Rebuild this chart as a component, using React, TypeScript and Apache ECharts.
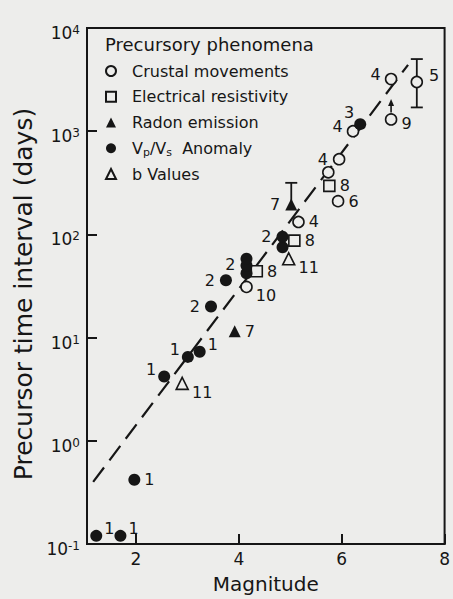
import React, { useEffect, useRef } from 'react';
import * as echarts from 'echarts';

// ---------- data ----------
const magnitudeTicks = [2, 4, 6, 8];

// Vp/Vs anomaly (filled circles)
const vpvsMag = [1.23, 1.7, 1.97, 2.55, 3.01, 3.24, 3.46, 3.75, 4.15, 4.15, 4.15, 4.85, 4.85, 6.36];
const vpvsDays = [0.12, 0.12, 0.42, 4.2, 6.5, 7.3, 20, 36, 42, 50, 58, 75, 95, 1170];
const vpvsRef = ['1', '1', '1', '1', '1', '1', '2', '2', '', '', '2', '', '2', '3'];

// Crustal movements (open circles)
const crustalMag = [4.15, 5.16, 5.74, 5.95, 5.93, 6.22, 6.96, 6.96, 7.46];
const crustalDays = [31, 132, 400, 535, 210, 1000, 3200, 1300, 3000];
const crustalRef = ['10', '4', '', '4', '6', '4', '4', '9', '5'];

// Electrical resistivity (open squares)
const resistMag = [4.35, 5.08, 5.76];
const resistDays = [44, 87, 295];
const resistRef = ['8', '8', '8'];

// Radon emission (filled triangles)
const radonMag = [3.92, 5.02];
const radonDays = [11.5, 195];
const radonRef = ['7', '7'];

// b values (open triangles)
const bValueMag = [2.9, 4.97];
const bValueDays = [3.6, 58];
const bValueRef = ['11', '11'];

// dashed trend line
const fitMag = [1.17, 7.29];
const fitDays = [0.4, 4400];

// error bars
const errMag = [7.46, 5.02];
const errLow = [1700, 195];
const errHigh = [5000, 316];
const errLowCap = [1, 0];

// upward arrow (lower bound)
const arrowMag = [6.96];
const arrowFrom = [1300];
const arrowTo = [2050];

// ---------- styles ----------
const INK = '#161616';
const BG = '#ededeb';
const FONT = 'DejaVu Sans';

const PLACE: Record<string, any> = {
  r: { position: 'right', distance: 4 },
  r4: { position: 'right', distance: 4, offset: [0, 4] },
  ur: { position: 'right', distance: 2, offset: [0, -7] },
  ur5: { position: 'right', distance: 6, offset: [0, -6] },
  ul: { position: 'left', distance: 2, offset: [0, -7] },
  l: { position: 'left', distance: 5 },
  l2: { position: 'left', distance: 5, offset: [0, 6] },
  lu: { position: 'left', distance: 4, offset: [0, -5] },
  ul3: { position: 'left', distance: 2, offset: [2, -12] },
  lr: { position: 'right', distance: 3, offset: [0, 9] },
};

const vpvsPlace = ['ur', 'ur', 'r', 'ul', 'ul', 'ur', 'l', 'l', '', '', 'l2', '', 'l', 'ul3'];
const crustalPlace = ['lr', 'r', '', 'l', 'r', 'lu', 'lu', 'r4', 'ur5'];
const resistPlace = ['r', 'r', 'r'];
const radonPlace = ['r', 'l'];
const bValuePlace = ['lr', 'lr'];

function points(mags: number[], days: number[], refs: string[], places: string[]) {
  return mags.map((m, i) => ({
    value: [m, days[i]],
    label: refs[i]
      ? { show: true, formatter: refs[i], ...PLACE[places[i]] }
      : { show: false },
  }));
}

const labelStyle = { color: INK, fontSize: 16, fontFamily: FONT };
const openStyle = { color: BG, borderColor: INK, borderWidth: 1.6, opacity: 1 };
const filledStyle = { color: INK, opacity: 1 };

export default function App() {
  const ref = useRef<HTMLDivElement>(null);

  useEffect(() => {
    if (!ref.current) return;
    const chart = echarts.init(ref.current, null, { renderer: 'svg' });
    const option: any = {
      animation: false,
      backgroundColor: BG,
      title: {
        text: 'Precursory phenomena',
        left: 105,
        top: 35,
        padding: 0,
        textStyle: { color: INK, fontSize: 18, fontWeight: 'normal', fontFamily: FONT },
      },
      legend: {
        orient: 'vertical',
        left: 105,
        top: 61,
        padding: 0,
        itemWidth: 10,
        itemHeight: 10,
        itemGap: 5.75,
        selectedMode: false,
        data: ['Crustal movements', 'Electrical resistivity', 'Radon emission', 'Vp/Vs Anomaly', 'b Values'],
        formatter: (name: string) =>
          name === 'Vp/Vs Anomaly' ? '{f|V}{s|p}{t|/V}{s|s}{t|  Anomaly}' : `{f|${name}}`,
        textStyle: {
          color: INK,
          fontSize: 16,
          fontFamily: FONT,
          lineHeight: 20,
          rich: {
            f: { color: INK, fontSize: 16, fontFamily: FONT, lineHeight: 20, padding: [0, 0, 0, 11] },
            t: { color: INK, fontSize: 16, fontFamily: FONT, lineHeight: 20 },
            s: { color: INK, fontSize: 11, fontFamily: FONT, lineHeight: 20, padding: [9, 0, 0, 0] },
          },
        },
      },
      grid: {
        left: 87,
        right: 4,
        top: 28,
        bottom: 52,
        show: true,
        borderColor: INK,
        borderWidth: 2,
        backgroundColor: 'transparent',
      },
      xAxis: {
        type: 'value',
        min: 1.05,
        max: 8,
        name: 'Magnitude',
        nameLocation: 'middle',
        nameGap: 30,
        nameTextStyle: { color: INK, fontSize: 20, fontFamily: FONT },
        axisLine: { lineStyle: { color: INK, width: 2 } },
        axisTick: {
          inside: true,
          length: 10,
          lineStyle: { color: INK, width: 2 },
          customValues: magnitudeTicks,
        },
        axisLabel: {
          customValues: magnitudeTicks,
          color: INK,
          fontSize: 17,
          fontFamily: FONT,
          margin: 6,
        },
        splitLine: { show: false },
      },
      yAxis: {
        type: 'log',
        logBase: 10,
        min: 0.1,
        max: 10000,
        name: 'Precursor time interval (days)',
        nameLocation: 'middle',
        nameRotate: 90,
        nameGap: 49,
        nameTextStyle: { color: INK, fontSize: 25, fontFamily: FONT, padding: [0, 16, 0, 0] },
        axisLine: { lineStyle: { color: INK, width: 2 } },
        axisTick: { inside: true, length: 10, lineStyle: { color: INK, width: 2 } },
        minorTick: { show: false },
        splitLine: { show: false },
        axisLabel: {
          margin: 7,
          formatter: (v: number) => `{b|10}{e|${Math.round(Math.log10(v))}}`,
          rich: {
            b: { color: INK, fontSize: 17, fontFamily: FONT, lineHeight: 28, padding: [10, 0, 0, 0] },
            e: { color: INK, fontSize: 12, fontFamily: FONT, lineHeight: 28, padding: [4, 0, 0, 0] },
          },
        },
      },
      series: [
        {
          type: 'line',
          name: 'trend',
          silent: true,
          z: 1,
          symbol: 'none',
          data: fitMag.map((m, i) => [m, fitDays[i]]),
          lineStyle: { color: INK, width: 2.2, type: [18, 9] },
        },
        {
          type: 'custom',
          name: 'errors',
          silent: true,
          z: 2,
          data: errMag.map((m, i) => [m, errLow[i], errHigh[i], errLowCap[i]]),
          encode: { x: 0, y: [1, 2] },
          renderItem: (params: any, api: any) => {
            const x = api.value(0);
            const lo = api.coord([x, api.value(1)]);
            const hi = api.coord([x, api.value(2)]);
            const st = { stroke: INK, lineWidth: 1.8 };
            const children: any[] = [
              { type: 'line', shape: { x1: lo[0], y1: lo[1], x2: hi[0], y2: hi[1] }, style: st },
              { type: 'line', shape: { x1: hi[0] - 6, y1: hi[1], x2: hi[0] + 6, y2: hi[1] }, style: st },
            ];
            if (api.value(3)) {
              children.push({ type: 'line', shape: { x1: lo[0] - 6, y1: lo[1], x2: lo[0] + 6, y2: lo[1] }, style: st });
            }
            return { type: 'group', children };
          },
        },
        {
          type: 'custom',
          name: 'arrows',
          silent: true,
          z: 2,
          data: arrowMag.map((m, i) => [m, arrowFrom[i], arrowTo[i]]),
          encode: { x: 0, y: [1, 2] },
          renderItem: (params: any, api: any) => {
            const x = api.value(0);
            const p0 = api.coord([x, api.value(1)]);
            const p1 = api.coord([x, api.value(2)]);
            return {
              type: 'group',
              children: [
                { type: 'line', shape: { x1: p0[0], y1: p0[1] - 7, x2: p1[0], y2: p1[1] + 5 }, style: { stroke: INK, lineWidth: 1.6 } },
                { type: 'polygon', shape: { points: [[p1[0] - 3, p1[1] + 7], [p1[0] + 3, p1[1] + 7], [p1[0], p1[1]]] }, style: { fill: INK } },
              ],
            };
          },
        },
        {
          type: 'scatter',
          name: 'Crustal movements',
          z: 3,
          symbol: 'circle',
          symbolSize: 11,
          itemStyle: openStyle,
          label: labelStyle,
          data: points(crustalMag, crustalDays, crustalRef, crustalPlace),
        },
        {
          type: 'scatter',
          name: 'Electrical resistivity',
          z: 3,
          symbol: 'rect',
          symbolSize: 11,
          itemStyle: openStyle,
          label: labelStyle,
          data: points(resistMag, resistDays, resistRef, resistPlace),
        },
        {
          type: 'scatter',
          name: 'Radon emission',
          z: 3,
          symbol: 'triangle',
          symbolSize: 12,
          itemStyle: filledStyle,
          label: labelStyle,
          data: points(radonMag, radonDays, radonRef, radonPlace),
        },
        {
          type: 'scatter',
          name: 'Vp/Vs Anomaly',
          z: 4,
          symbol: 'circle',
          symbolSize: 12,
          itemStyle: filledStyle,
          label: labelStyle,
          data: points(vpvsMag, vpvsDays, vpvsRef, vpvsPlace),
        },
        {
          type: 'scatter',
          name: 'b Values',
          z: 3,
          symbol: 'triangle',
          symbolSize: 12,
          itemStyle: openStyle,
          label: labelStyle,
          data: points(bValueMag, bValueDays, bValueRef, bValuePlace),
        },
      ],
    };
    chart.setOption(option);
    return () => chart.dispose();
  }, []);

  return (
    <div
      ref={ref}
      style={{ position: 'absolute', left: 0, top: 0, width: 453, height: 599 }}
    />
  );
}
